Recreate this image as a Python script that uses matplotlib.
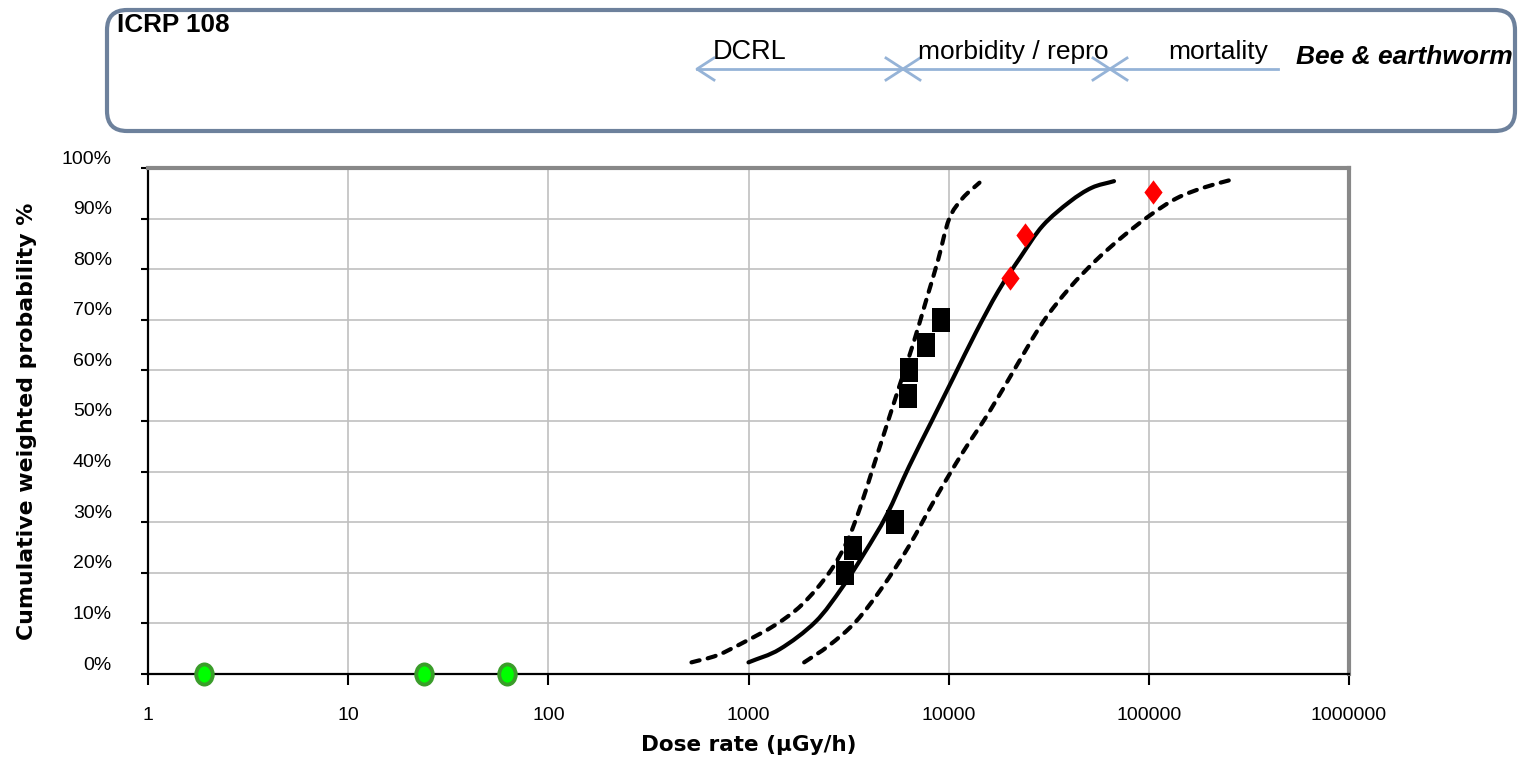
import numpy as np
import matplotlib
matplotlib.use("Agg")
import matplotlib.pyplot as plt
from matplotlib.path import Path
from matplotlib.patches import FancyBboxPatch, PathPatch
from matplotlib.lines import Line2D
import matplotlib.transforms as mtransforms

# ---------------- data ----------------
median_dose = [1000, 1432, 2158, 2938, 3793, 4898, 6339, 8185, 10568, 13677,
               17660, 22856, 29512, 40179, 51880, 66988]
median_pct = [2.3, 4.9, 10.3, 17.1, 23.9, 31.4, 41.0, 49.8, 58.6, 67.5,
              75.6, 82.4, 88.6, 93.3, 96.1, 97.4]

lower_dose = [519, 698, 951, 1361, 1849, 2518, 3090, 3606, 4207, 4898,
              5715, 6668, 7780, 8851, 10046, 11722, 14256]
lower_pct = [2.3, 3.7, 6.3, 9.7, 13.7, 19.9, 26.0, 32.8, 41.0, 49.1,
             57.3, 65.4, 74.3, 81.8, 89.9, 94.0, 97.1]

upper_dose = [1897, 2518, 3428, 4656, 6339, 8610, 11722, 15959, 21677, 29512,
              40179, 54576, 74302, 100925, 137404, 187068, 254097]
upper_pct = [2.3, 5.6, 10.3, 17.1, 25.3, 34.8, 43.7, 51.8, 60.7, 69.5,
             76.3, 81.8, 86.5, 90.6, 94.0, 96.1, 97.6]

square_dose = [3030, 3340, 5370, 6270, 6340, 7690, 9200]
square_pct = [20, 25, 30, 55, 60, 65, 70]

diamond_dose = [20300, 24200, 105000]
diamond_pct = [78.3, 86.8, 95.2]

circle_dose = [1.9, 24, 62]
circle_pct = [0, 0, 0]

x_ticks = [1, 10, 100, 1000, 10000, 100000, 1000000]
x_ticklabels = ["1", "10", "100", "1000", "10000", "100000", "1000000"]
y_ticks = [0, 10, 20, 30, 40, 50, 60, 70, 80, 90, 100]
y_ticklabels = ["0%", "10%", "20%", "30%", "40%", "50%", "60%", "70%", "80%", "90%", "100%"]

header_title = "ICRP 108"
header_labels = ["DCRL", "morbidity / repro", "mortality"]
header_species = "Bee & earthworm"

TICK_FONT = "Liberation Sans"


def smooth_path(xs, ys):
    """Excel-style smoothed line: cubic Bezier segments through the points
    (tangents from neighbouring points, computed in log-x space)."""
    u = np.log10(np.asarray(xs, float))
    v = np.asarray(ys, float)
    P = np.column_stack([u, v])
    n = len(P)
    m = np.zeros_like(P)
    m[0] = P[1] - P[0]
    m[-1] = P[-1] - P[-2]
    m[1:-1] = (P[2:] - P[:-2]) / 2.0
    verts = [P[0]]
    codes = [Path.MOVETO]
    for i in range(n - 1):
        verts += [P[i] + m[i] / 3.0, P[i + 1] - m[i + 1] / 3.0, P[i + 1]]
        codes += [Path.CURVE4] * 3
    verts = np.array(verts)
    verts[:, 0] = 10 ** verts[:, 0]
    return Path(verts, codes)


# ---------------- figure ----------------
W, H = 1518, 758
fig = plt.figure(figsize=(W / 100, H / 100), dpi=100)
fig.patch.set_facecolor("white")

L, R, T, B = 148, 1349, 168, 674
ax = fig.add_axes([L / W, 1 - B / H, (R - L) / W, (B - T) / H])
ax.set_xscale("log")
ax.set_xlim(1, 1e6)
ax.set_ylim(0, 100)

ax.grid(True, which="major", color="#c0c0c0", linewidth=1.2, zorder=0)
ax.minorticks_off()
ax.set_xticks(x_ticks)
ax.set_xticklabels(x_ticklabels, family=TICK_FONT)
ax.set_yticks(y_ticks)
ax.set_yticklabels(y_ticklabels, family=TICK_FONT)
ax.tick_params(axis="x", which="major", direction="out", length=8, width=1.5,
               pad=16, labelsize=14, color="black")
ax.tick_params(axis="y", which="major", direction="out", length=5, width=1.5,
               pad=21, labelsize=14, color="black")
off = mtransforms.ScaledTranslation(0, 0.11, fig.dpi_scale_trans)
for lab in ax.get_yticklabels():
    lab.set_transform(lab.get_transform() + off)

for s in ["top", "right"]:
    ax.spines[s].set_color("#888888")
    ax.spines[s].set_linewidth(3)
for s in ["left", "bottom"]:
    ax.spines[s].set_color("black")
    ax.spines[s].set_linewidth(1.6)

ax.set_xlabel("Dose rate (µGy/h)", fontsize=15.5, fontweight="bold")
ax.set_ylabel("Cumulative weighted probability %", fontsize=15.8, fontweight="bold")
ax.xaxis.set_label_coords(0.5, -(735 - B) / (B - T))
ax.yaxis.set_label_coords(-(L - 37) / (R - L), 0.5)

# curves (smoothed through the read points)
ax.add_patch(PathPatch(smooth_path(median_dose, median_pct), fill=False,
                       edgecolor="black", lw=3, capstyle="round", zorder=3))
dash = (0, (2, 2))
for xs, ys in [(lower_dose, lower_pct), (upper_dose, upper_pct)]:
    ax.add_patch(PathPatch(smooth_path(xs, ys), fill=False, edgecolor="black", lw=3,
                           linestyle=dash, capstyle="round", zorder=3))

# markers
rect = Path([(-0.375, -0.5), (0.375, -0.5), (0.375, 0.5), (-0.375, 0.5), (-0.375, -0.5)],
            [Path.MOVETO, Path.LINETO, Path.LINETO, Path.LINETO, Path.CLOSEPOLY])
diam = Path([(0, -0.5), (0.375, 0), (0, 0.5), (-0.375, 0), (0, -0.5)],
            [Path.MOVETO, Path.LINETO, Path.LINETO, Path.LINETO, Path.CLOSEPOLY])
uc = Path.unit_circle()
ell = Path(uc.vertices * np.array([0.41, 0.5]), uc.codes)

ax.plot(square_dose, square_pct, linestyle="none", marker=rect, markersize=17.5,
        markerfacecolor="black", markeredgecolor="black", markeredgewidth=0, zorder=4)
ax.plot(diamond_dose, diamond_pct, linestyle="none", marker=diam, markersize=17.5,
        markerfacecolor="#ff0000", markeredgecolor="#ff0000", markeredgewidth=0, zorder=4)
ax.plot(circle_dose, circle_pct, linestyle="none", marker=ell, markersize=14.5,
        markerfacecolor="#00ff00", markeredgecolor="#3a9d2a", markeredgewidth=2.8,
        zorder=5, clip_on=False)

# ---------------- header box (pixel coordinates) ----------------
hx = fig.add_axes([0, 0, 1, 1], zorder=-1)
hx.set_xlim(0, W)
hx.set_ylim(H, 0)
hx.axis("off")
box = FancyBboxPatch((107, 10), 1408, 121,
                     boxstyle="round,pad=0,rounding_size=20",
                     facecolor="white", edgecolor="#6d819c", linewidth=3)
hx.add_patch(box)

hx.text(117, 25, header_title, fontsize=18.8, fontweight="bold", family="Liberation Sans",
        ha="left", va="center", color="black")
hx.text(713, 52, header_labels[0], fontsize=19.5, family="Liberation Sans",
        ha="left", va="center", color="black")
hx.text(918, 52, header_labels[1], fontsize=19, family="Liberation Sans",
        ha="left", va="center", color="black")
hx.text(1168, 52, header_labels[2], fontsize=19, family="Liberation Sans",
        ha="left", va="center", color="black")
hx.text(1296, 57, header_species, fontsize=19, fontweight="bold", style="italic",
        family="Liberation Sans", ha="left", va="center", color="black")

ac = "#95b3d7"
alw = 2
yA = 69
hx.add_line(Line2D([697, 1278], [yA, yA], color=ac, lw=alw))
for tip, d in [(697, 1), (903, -1), (903, 1), (1110, -1), (1110, 1)]:
    hx.add_line(Line2D([tip + d * 17, tip, tip + d * 17], [yA - 11, yA, yA + 11],
                       color=ac, lw=alw))

fig.savefig("out.png", dpi=100, facecolor="white")
